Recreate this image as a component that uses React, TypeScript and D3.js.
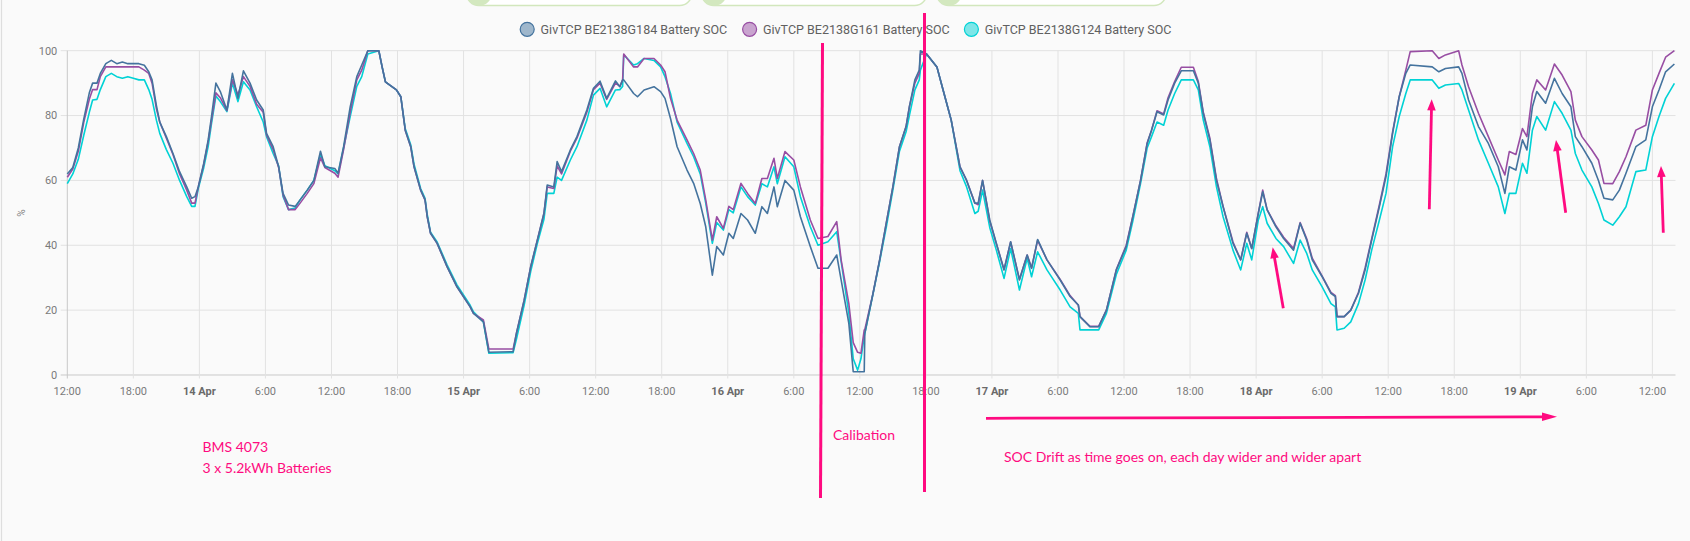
import React from "react";
import * as d3 from "d3";

// ---- data (hours after 13 Apr 12:00) ----
const HOURS = [
  0, 0.5, 1.0, 1.5, 2.0, 2.3, 2.7, 3.0, 3.5, 4.0, 4.5, 5.0, 5.5, 6.0, 6.5, 7.0, 7.4, 7.7, 8.1, 8.4,
  9.0, 9.6, 10.2, 10.85, 11.3, 11.6, 11.9, 12.4, 12.8, 13.1, 13.5, 13.9, 14.5, 15.0, 15.5, 16.0, 16.6, 17.2, 17.8, 18.1,
  18.7, 19.2, 19.6, 20.1, 20.7, 21.15, 21.8, 22.4, 23.0, 23.4, 24.3, 24.6, 25.1, 25.7, 26.3, 26.75, 27.3, 28.3, 28.6, 28.9,
  29.3, 29.9, 30.3, 30.7, 31.2, 31.5, 32.1, 32.5, 32.7, 33.0, 33.6, 34.5, 35.4, 36.6, 36.9, 37.8, 38.3, 40.5, 40.8, 41.5,
  42.1, 42.7, 43.3, 43.6, 44.2, 44.5, 44.9, 45.7, 46.3, 47.2, 47.8, 48.4, 49.0, 49.8, 50.2, 50.45, 50.55, 51.45, 51.8, 52.4,
  53.3, 53.9, 54.3, 54.8, 55.4, 56.3, 56.9, 57.5, 58.0, 58.6, 59.0, 59.6, 60.1, 60.5, 61.2, 61.8, 62.5, 63.1, 63.6, 64.2,
  64.5, 65.2, 66.0, 66.6, 67.5, 68.2, 69.1, 69.9, 70.3, 71.0, 71.4, 71.8, 72.1, 72.4, 72.45, 73.2, 73.8, 74.4, 75.0, 75.6,
  76.2, 76.5, 77.0, 77.4, 77.5, 78.06, 79.0, 79.6, 80.3, 81.1, 81.7, 82.45, 82.75, 83.15, 83.8, 84.4, 85.1, 85.7, 86.5, 87.2,
  87.6, 88.15, 89.0, 90.2, 91.1, 91.85, 92.0, 92.9, 93.7, 94.4, 95.3, 96.2, 96.8, 97.5, 98.1, 98.5, 99.0, 99.6, 100.0, 100.6,
  101.2, 102.3, 102.75, 103.2, 103.8, 104.4, 105.0, 105.9, 106.6, 107.15, 107.6, 108.2, 108.6, 109.0, 109.8, 110.5, 111.4, 112.0, 112.6, 113.1,
  114.0, 114.8, 115.2, 115.35, 116.0, 116.6, 117.3, 117.9, 118.5, 119.2, 119.8, 120.4, 121.0, 121.6, 122.0, 124.0, 124.6, 125.2, 126.4, 126.7,
  127.3, 128.2, 129.1, 130.0, 130.6, 131.0, 131.6, 132.2, 132.6, 133.1, 133.5, 134.3, 135.1, 135.8, 136.6, 137.0, 137.6, 138.5, 139.1, 139.6,
  140.4, 141.0, 141.6, 142.5, 143.4, 144.0, 144.6, 145.2, 146.0,
];

const SOC_184 = [
  62, 64, 70, 79, 87, 90, 90, 93, 96, 97, 96, 96.5, 96, 96, 96, 95.5, 93.5, 91, 83, 78,
  73.5, 68.3, 62.7, 58, 54.5, 55, 58, 65.3, 72.5, 79.7, 90, 87.4, 81.7, 93, 85.3, 93.8, 90, 84.8, 81.7, 74.5,
  70.4, 64.2, 56, 52.4, 52, 54, 57, 60, 69, 64.2, 63.7, 62.2, 70.4, 82.7, 92, 95.6, 100, 100, 95, 90.4,
  89.4, 87.9, 85.8, 75.5, 70.4, 64.2, 57, 54, 48.8, 43.7, 40.6, 33.4, 27.2, 21, 19, 16.4, 7, 7.2, 12.8, 23,
  33.4, 41.6, 49.8, 58.6, 58, 65.8, 62.7, 69.4, 73.5, 81.7, 88.4, 90.6, 85.3, 90.7, 88.9, 91, 91, 86.8, 85.8, 87.9,
  88.9, 87.4, 85.3, 79.1, 70.4, 63.2, 59.1, 52.9, 45.7, 30.8, 39.6, 37, 43.7, 42.1, 49.8, 47.8, 43.7, 51.9, 49.8, 58,
  51.9, 60, 57, 48.8, 39.6, 32.9, 32.9, 37, 29.3, 15.9, 1, 1, 1, 1, 12.8, 25.2, 35.5, 46.8, 58, 70.4,
  76.6, 82.7, 91, 94, 100, 99, 95, 87.4, 78.6, 64.2, 60, 53, 53, 60, 47.8, 40.6, 32.4, 41.1, 29.3, 37,
  32.9, 41.8, 35.5, 29.3, 24.2, 21.6, 18, 14.9, 14.9, 20, 32.4, 39.6, 48.8, 60, 71.4, 75.5, 81.2, 80.2, 84.8, 90,
  93.8, 93.8, 90, 80.7, 72.5, 60, 51.9, 40.6, 35.5, 43.7, 39, 49.8, 56.5, 50.9, 45.7, 42.1, 38.5, 46.8, 41.6, 35.5,
  30.3, 25.2, 24.2, 18, 18, 20, 25.2, 32.4, 41.6, 51.9, 61.2, 74.5, 85.8, 93, 95.6, 95, 93.5, 94.5, 95, 93,
  84.8, 76.6, 71.4, 64.2, 56, 64.2, 63.2, 72.5, 69.4, 82.7, 87.4, 83.8, 91.5, 86.8, 82.7, 73.5, 70.4, 65.3, 60, 54.5,
  54, 57, 62.2, 70.4, 72.5, 82.7, 87.9, 93.5, 95.9,
];

const SOC_161 = [
  61, 63.5, 69, 78, 85, 88, 88, 92, 95, 95, 95, 95, 95, 95, 95, 94, 93, 90, 82, 78,
  73, 68, 62, 57, 53, 53, 58, 65, 72, 78.5, 87, 85.5, 81.5, 91, 86.3, 92, 89, 83.5, 81, 74,
  69.5, 64, 55.5, 51, 51, 53, 56, 59, 67, 64, 62.2, 61, 69.5, 81, 91, 94, 100, 100, 95, 90.4,
  89.4, 87.9, 85.8, 75.5, 70.4, 64.2, 57, 54, 48.8, 43.7, 40.6, 33.4, 27.2, 21, 19, 17, 8, 8, 12.8, 23,
  33.4, 41.6, 49.8, 58, 57.5, 64.5, 62, 69, 73, 81, 88, 90, 85, 90, 89, 91, 99, 95, 95, 97.6,
  97.6, 95.6, 93.5, 85.3, 78.6, 72.5, 68.3, 63.2, 54, 41.6, 48.8, 45.2, 52, 51, 59.1, 56, 52.9, 60.6, 60.6, 66.8,
  60.6, 68.9, 66.3, 58, 47.8, 42.1, 42.7, 47.3, 35.5, 22, 10, 7, 6.7, 13.9, 14, 25.2, 35.5, 46.8, 58, 70.4,
  76.6, 82.7, 90, 93, 99, 99, 95, 87.4, 78.6, 64.2, 60, 53, 52.5, 60, 47.5, 40.5, 32.5, 41, 29.5, 37,
  33, 41.5, 35.5, 29.5, 24.5, 21.5, 18, 15, 15, 20, 32.5, 40, 49, 60, 71.5, 75.5, 81.5, 80.5, 85.5, 90.5,
  94.9, 94.9, 90.5, 81, 73, 60.5, 52, 41, 35.5, 44, 39, 50, 57, 51, 46, 42.5, 39, 47, 42, 36,
  30.5, 25.5, 24.5, 18, 18, 20, 25.5, 33, 42, 52.5, 62, 75, 85.8, 94, 99.7, 100, 97.6, 98.7, 100, 95.6,
  88.9, 80.7, 73.5, 66.3, 61.7, 68.9, 68, 76, 73.5, 86.8, 91, 87.9, 95.9, 92.5, 87.4, 78.6, 73.5, 69.4, 66.3, 59.1,
  59, 62.7, 67.3, 75.5, 77, 87.9, 93, 98, 100,
];

const SOC_124 = [
  59, 62, 66.5, 74, 81, 84.8, 85, 88, 92, 93, 92, 91.5, 92, 91.5, 91, 91, 88, 85, 78.5, 74.5,
  69.5, 65.3, 60, 55, 52, 52, 57.5, 64, 70.5, 77.5, 86, 84.3, 81.2, 90, 84.3, 90.4, 87.9, 82.7, 78, 73.5,
  68.3, 64.5, 55, 51, 51.5, 54, 57, 60, 68, 64.5, 63, 62, 70, 79.7, 89, 92, 99, 100, 95, 90.4,
  89.4, 87.9, 85.8, 76, 71, 65, 57.5, 54.5, 49.5, 44, 41, 34, 27.8, 21.5, 19.5, 16.4, 6.7, 6.9, 11, 21.5,
  32, 40.5, 48, 56, 56, 61, 60, 66.3, 70.4, 78.6, 86.3, 88.4, 82.7, 87.9, 88, 89, 98.7, 95.6, 96, 97.6,
  97, 95, 92, 86.8, 78, 71.4, 67.3, 62, 53, 40.6, 47, 44.7, 51, 50, 58, 55, 52.4, 59, 58, 64.2,
  59, 67.3, 64.2, 55, 45.7, 40, 41.1, 44.2, 35, 19, 5, 1.5, 5, 12, 12.8, 25, 35, 45.5, 57, 69,
  75, 80, 87.9, 91, 94, 99, 95, 87.4, 78.6, 63, 58, 49.8, 50.5, 57, 45.5, 38.5, 29.8, 39, 26.2, 36,
  30.3, 38, 32.4, 26.2, 21, 19, 13.9, 13.9, 13.9, 19, 31, 38.5, 47.5, 59, 70, 73.5, 78, 77, 81.7, 86.8,
  91, 91, 87.9, 78.6, 70.4, 58, 48.8, 38.5, 32.4, 40.6, 35.5, 47.8, 51.9, 46.8, 42.1, 39.6, 34.4, 41.6, 37.5, 32.4,
  27.2, 22, 21, 13.9, 14.4, 16.4, 22, 29.3, 38.5, 47.8, 56, 70.4, 79.7, 86.8, 91, 91, 88.4, 89.4, 89.9, 87.9,
  81.7, 72.5, 65.3, 58, 49.8, 56, 56, 65.3, 62.2, 75.5, 79.7, 75.5, 84.3, 80.7, 75.5, 68.3, 63.2, 58, 52.9, 47.8,
  46.2, 48.8, 51.9, 62.7, 63.2, 73.5, 79.7, 85.3, 89.9,
];

const SERIES_NAMES = [
  "GivTCP BE2138G184 Battery SOC",
  "GivTCP BE2138G161 Battery SOC",
  "GivTCP BE2138G124 Battery SOC",
];
const SERIES_COLORS = ["#44739e", "#984ea3", "#00d2d5"];
const Y_TICKS = [0, 20, 40, 60, 80, 100];
const START = new Date(2023, 3, 13, 12, 0, 0);
const END_HOURS = 146.1;

const PINK = "#ff0a80";

function arrowHead(tx: number, ty: number, hx: number, hy: number, len: number, half: number) {
  const dx = hx - tx, dy = hy - ty;
  const L = Math.sqrt(dx * dx + dy * dy);
  const ux = dx / L, uy = dy / L;
  const bx = hx - ux * len, by = hy - uy * len;
  const px = -uy, py = ux;
  return `${hx},${hy} ${bx + px * half},${by + py * half} ${bx - px * half},${by - py * half}`;
}

export default function App() {
  const W = 1690, H = 541;
  const toDate = (h: number) => new Date(START.getTime() + h * 3600e3);
  const x = d3.scaleTime().domain([START, toDate(END_HOURS)]).range([67.3, 1675.5]);
  const y = d3.scaleLinear().domain([0, 100]).range([375, 50.7]);
  const xTicks = x.ticks(d3.timeHour.every(6) as any);
  const fmt = (d: Date) => (d.getHours() === 0 ? d3.timeFormat("%-d %b")(d) : d3.timeFormat("%-H:00")(d));

  const series = [SOC_184, SOC_161, SOC_124];
  const line = d3
    .line<number>()
    .x((_, i) => x(toDate(HOURS[i])))
    .y((v) => y(v))
    .curve(d3.curveLinear);

  const legendX = [527.2, 749.6, 971.4];
  const boxes = [[466.7, 691.7], [701.7, 926.7], [936.7, 1166]];

  const upArrows = [
    [1283.3, 308.3, 1272.7, 247.3],
    [1429.3, 209.3, 1431.7, 99.3],
    [1565.7, 212.7, 1556, 140],
    [1663.3, 232.7, 1661, 166],
  ];

  return (
    <svg
      width={W}
      height={H}
      style={{ position: "absolute", left: 0, top: 0, background: "#fafafa" }}
      fontFamily="Roboto, 'Noto Sans', sans-serif"
    >
      <rect x={0} y={0} width={W} height={H} fill="#fafafa" />
      <line x1={1.5} y1={0} x2={1.5} y2={H} stroke="#dedede" strokeWidth={1.2} />

      {/* cut-off top controls */}
      {boxes.map(([a, b], i) => (
        <g key={"b" + i}>
          <rect x={a} y={-22} width={b - a} height={27.6} rx={12} fill="#ffffff" stroke="#d2e7bd" strokeWidth={1.5} />
          <circle cx={a + 12.5} cy={-7} r={12.7} fill="#d3e8bf" />
        </g>
      ))}

      {/* legend */}
      {SERIES_NAMES.map((n, i) => (
        <g key={"l" + i}>
          <circle cx={legendX[i]} cy={29.3} r={7} fill={SERIES_COLORS[i]} fillOpacity={0.5} stroke={SERIES_COLORS[i]} strokeWidth={1.2} />
          <text x={legendX[i] + 13.4} y={33.6} fontSize={12.5} fill="#606060">{n}</text>
        </g>
      ))}

      {/* grid */}
      {Y_TICKS.map((t) => (
        <g key={"y" + t}>
          <line x1={60.7} x2={1675.5} y1={y(t)} y2={y(t)} stroke={t === 0 ? "#c9c9c9" : "#e2e2e2"} strokeWidth={1} />
          <text x={57.3} y={y(t) + 3.8} fontSize={11} fill="#7a7a7a" textAnchor="end">{t}</text>
        </g>
      ))}
      {xTicks.map((d, i) => (
        <g key={"x" + i}>
          <line x1={x(d)} x2={x(d)} y1={50.7} y2={378.5} stroke={i === 0 ? "#c9c9c9" : "#e2e2e2"} strokeWidth={1} />
          <text
            x={x(d)}
            y={395}
            fontSize={11}
            fill={d.getHours() === 0 ? "#6a6a6a" : "#7a7a7a"}
            fontWeight={d.getHours() === 0 ? 700 : 400}
            textAnchor="middle"
          >
            {fmt(d)}
          </text>
        </g>
      ))}
      <text transform="translate(25,213) rotate(-90)" fontSize={10} fill="#888" textAnchor="middle">%</text>

      {/* series */}
      {[2, 1, 0].map((i) => (
        <path key={"s" + i} d={line(series[i]) || ""} fill="none" stroke={SERIES_COLORS[i]} strokeWidth={1.6} strokeLinejoin="round" />
      ))}

      {/* annotations */}
      <line x1={822.5} y1={43} x2={820.5} y2={498} stroke={PINK} strokeWidth={3} />
      <line x1={924.5} y1={13} x2={924.5} y2={492} stroke={PINK} strokeWidth={3} />
      <text x={833} y={440} fontSize={14} fill={PINK} fontFamily="Lato, sans-serif">Calibation</text>
      <text x={202.5} y={452} fontSize={14} fill={PINK} fontFamily="Lato, sans-serif">BMS 4073</text>
      <text x={202.5} y={473} fontSize={14} fill={PINK} fontFamily="Lato, sans-serif">3 x 5.2kWh Batteries</text>
      <text x={1004} y={462} fontSize={14} fill={PINK} fontFamily="Lato, sans-serif">
        SOC Drift as time goes on, each day wider and wider apart
      </text>
      <line x1={986} y1={418.3} x2={1545} y2={416.9} stroke={PINK} strokeWidth={2.8} />
      <polygon points={arrowHead(986, 418.3, 1557, 416.7, 15, 4.2)} fill={PINK} />
      {upArrows.map(([tx, ty, hx, hy], i) => {
        const dx = hx - tx, dy = hy - ty;
        const L = Math.sqrt(dx * dx + dy * dy);
        const ex = hx - (dx / L) * 9, ey = hy - (dy / L) * 9;
        return (
          <g key={"a" + i}>
            <line x1={tx} y1={ty} x2={ex} y2={ey} stroke={PINK} strokeWidth={2.8} />
            <polygon points={arrowHead(tx, ty, hx, hy, 11, 4.3)} fill={PINK} />
          </g>
        );
      })}
    </svg>
  );
}
